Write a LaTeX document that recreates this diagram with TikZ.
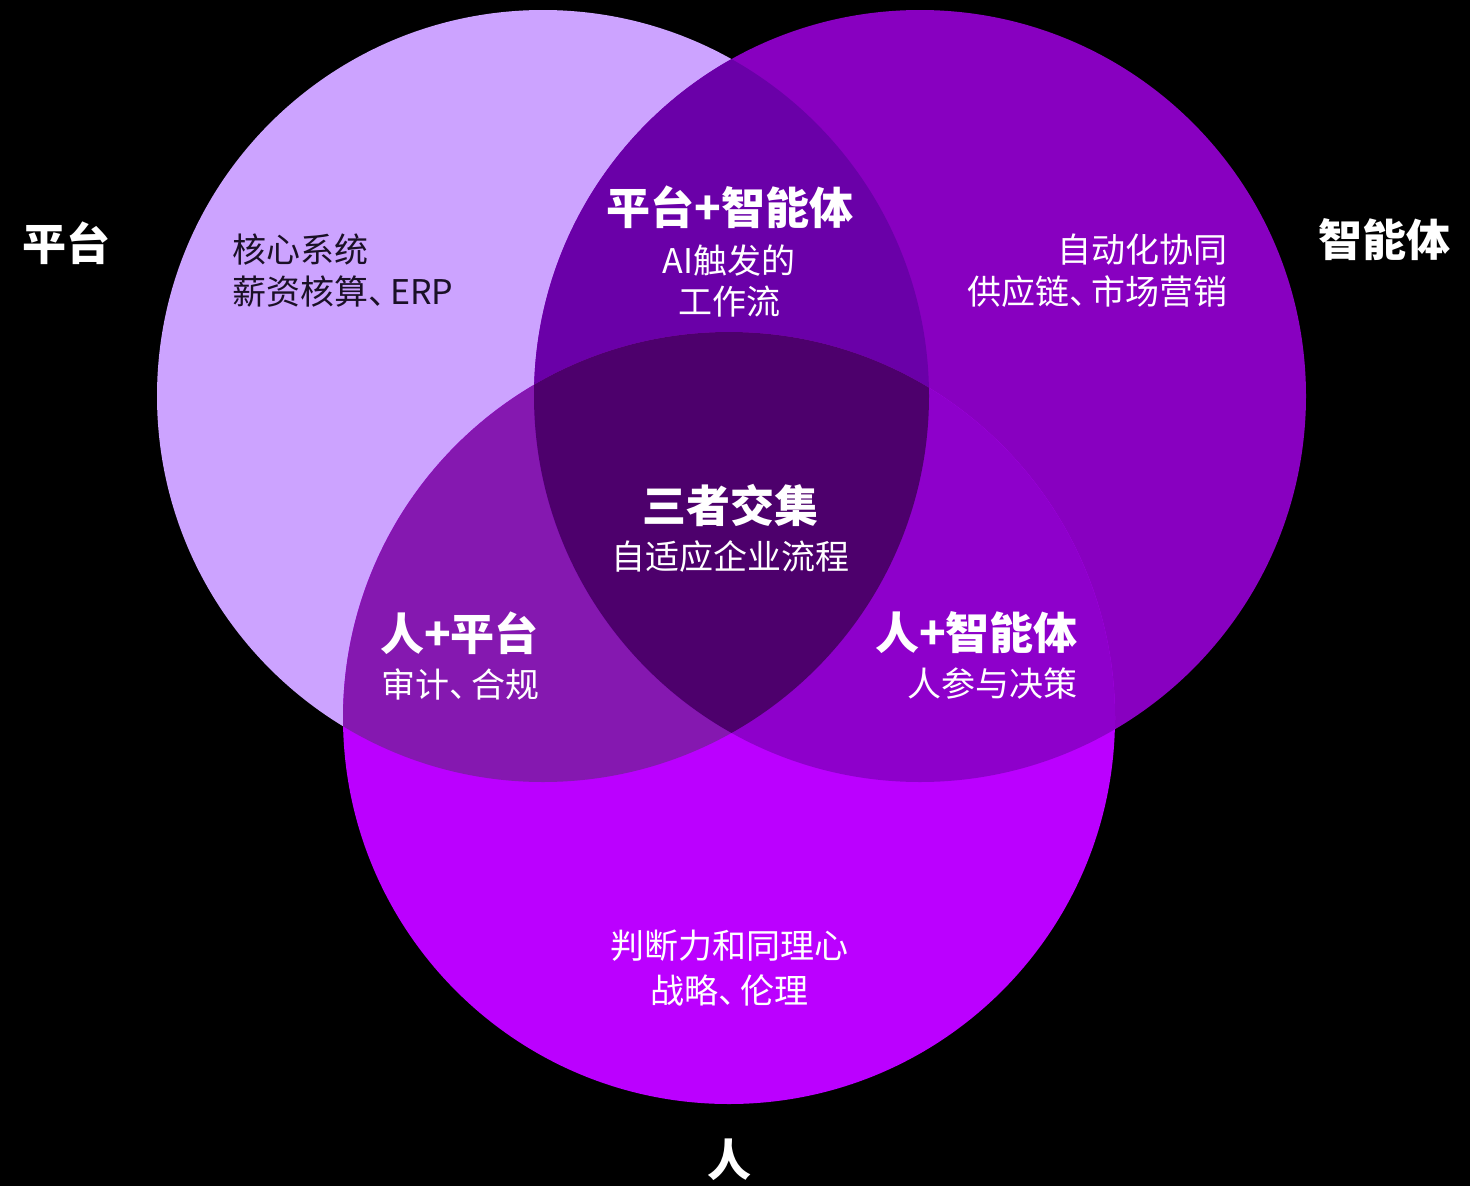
\documentclass[tikz,border=0pt]{standalone}
\usepackage{fontspec}
\setmainfont{Noto Sans CJK SC}[RawFeature=+halt]
\definecolor{cA}{HTML}{CCA3FF}
\definecolor{cB}{HTML}{8800C0}
\definecolor{cC}{HTML}{BB00FF}
\definecolor{cAB}{HTML}{6A00A8}
\definecolor{cAC}{HTML}{8518B0}
\definecolor{cBC}{HTML}{8E00CB}
\definecolor{cABC}{HTML}{4D006C}
\definecolor{darktext}{HTML}{1A1026}
\newcommand{\dun}{、\kern5pt}
\tikzset{
  titletext/.style={font=\fontsize{44}{50}\selectfont\bfseries, text=white, inner sep=0pt},
  bodytext/.style={font=\fontsize{34}{40}\selectfont, text=white, inner sep=0pt}
}
\begin{document}
\begin{tikzpicture}[x=1pt,y=-1pt]
\fill[black] (0,0) rectangle (1470,1186);
\useasboundingbox (0,0) rectangle (1470,1186);
\coordinate (A) at (543,396);
\coordinate (B) at (920,396);
\coordinate (C) at (729,718);
\def\R{386pt}
% single circles
\fill[cA] (A) circle[radius=\R];
\fill[cB] (B) circle[radius=\R];
\fill[cC] (C) circle[radius=\R];
% pairwise
\begin{scope}
  \clip (A) circle[radius=\R];
  \fill[cAB] (B) circle[radius=\R];
  \fill[cAC] (C) circle[radius=\R];
\end{scope}
\begin{scope}
  \clip (B) circle[radius=\R];
  \fill[cBC] (C) circle[radius=\R];
\end{scope}
\begin{scope}
  \clip (A) circle[radius=\R];
  \clip (B) circle[radius=\R];
  \fill[cABC] (C) circle[radius=\R];
\end{scope}
% outer labels
\node[titletext] (lA) at (66,243) {平台};
\node[titletext] (lB) at (1384,240) {智能体};
\node[titletext] (lC) at (729,1160) {人};
% A only
\node[bodytext, text=darktext, anchor=west] (a1) at (232,250) {核心系统};
\node[bodytext, text=darktext, anchor=west] (a2) at (232,292) {薪资核算\dun ERP};
% AB
\node[titletext] (ab0) at (730,207) {平台+智能体};
\node[bodytext] (ab1) at (729,261) {AI触发的};
\node[bodytext] (ab2) at (729,302) {工作流};
% B only
\node[bodytext, anchor=east] (b1) at (1228,250) {自动化协同};
\node[bodytext, anchor=east] (b2) at (1228,292) {供应链\dun 市场营销};
% ABC
\node[titletext] (abc0) at (730,505) {三者交集};
\node[bodytext] (abc1) at (730,557) {自适应企业流程};
% AC
\node[titletext, anchor=west] (ac0) at (380,633) {人+平台};
\node[bodytext, anchor=west] (ac1) at (381,684) {审计\dun 合规};
% BC
\node[titletext, anchor=east] (bc0) at (1078,633) {人+智能体};
\node[bodytext, anchor=east] (bc1) at (1078,684) {人参与决策};
% C only
\node[bodytext] (c1) at (729,946) {判断力和同理心};
\node[bodytext] (c2) at (729,990) {战略\dun 伦理};
\end{tikzpicture}
\end{document}
